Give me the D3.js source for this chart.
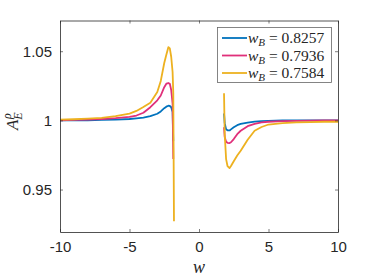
<!DOCTYPE html>
<html>
<head>
<meta charset="utf-8">
<script src="https://cdn.jsdelivr.net/npm/d3@7"></script>
<style>
  body { margin: 0; background: #fff; }
  svg text { fill: #262626; }
</style>
</head>
<body>
<svg id="chart" width="374" height="280"></svg>
<script>
// left branch (w < 0)
let wLeft = [-10, -9, -8, -7, -6, -5, -4.5, -4, -3.5, -3, -2.75, -2.5, -2.35, -2.2, -2.1, -2.0, -1.9, -1.85, -1.8]
let blueLeft = [1.0, 1.0, 1.0001, 1.0003, 1.0006, 1.001, 1.0015, 1.002, 1.003, 1.0048, 1.0065, 1.0088, 1.0099, 1.0106, 1.0104, 1.0095, 1.006, 0.985, null]
let pinkLeft = [1.0, 1.0003, 1.0006, 1.001, 1.0016, 1.0025, 1.0035, 1.0055, 1.0095, 1.0145, 1.018, 1.024, 1.0265, 1.027, 1.0265, 1.022, 1.012, 0.972, null]
let yellowLeft = [1.0005, 1.0008, 1.0012, 1.0018, 1.003, 1.0049, 1.0068, 1.0097, 1.0128, 1.0205, 1.0285, 1.0415, 1.0475, 1.053, 1.052, 1.046, 1.035, 1.02, 0.927]

// right branch (w > 0)
let wRight = [1.8, 1.85, 1.95, 2.05, 2.2, 2.3, 2.5, 2.75, 3, 3.5, 4, 4.5, 5, 6, 7, 8, 9, 10]
let blueRight = [1.005, 0.998, 0.9935, 0.9928, 0.9927, 0.9935, 0.995, 0.9965, 0.9974, 0.9984, 0.9991, 0.9995, 0.9997, 0.9999, 1.0, 1.0, 1.0, 1.0]
let pinkRight = [0.995, 0.988, 0.9845, 0.9838, 0.9836, 0.9842, 0.9865, 0.99, 0.9925, 0.9958, 0.9975, 0.9985, 0.999, 0.9995, 0.9997, 0.9998, 0.9999, 0.9999]
let yellowRight = [1.0196, 0.99, 0.972, 0.967, 0.9655, 0.967, 0.9705, 0.9746, 0.978, 0.986, 0.9925, 0.9952, 0.997, 0.998, 0.9985, 0.9988, 0.999, 0.999]

let labels = ["w_B = 0.8257", "w_B = 0.7936", "w_B = 0.7584"]
let colors = ["#0072bd", "#e0307a", "#edb120"]
let xTicks = [-10, -5, 0, 5, 10]
let yTicks = [0.95, 1, 1.05]

let margin = {top: 20.5, right: 36, bottom: 48, left: 60}
let width = 374, height = 280

let scales = {
  x: d3.scaleLinear().domain([-10, 10]).range([margin.left, width - margin.right]),
  y: d3.scaleLinear().domain([0.9193, 1.0722]).range([height - margin.bottom, margin.top])
}

let svg = d3.select("#chart")

function draw_lines() {
  let series = [
    {left: blueLeft, right: blueRight},
    {left: pinkLeft, right: pinkRight},
    {left: yellowLeft, right: yellowRight}
  ]
  let line = d3.line()
    .defined(d => d[1] != null)
    .x(d => scales.x(d[0]))
    .y(d => scales.y(d[1]))

  let g = svg.append("g")
  series.forEach((s, i) => {
    [[wLeft, s.left], [wRight, s.right]].forEach(([ws, vs]) => {
      g.append("path")
        .attr("d", line(ws.map((w, j) => [w, vs[j]])))
        .attr("fill", "none")
        .attr("stroke", colors[i])
        .attr("stroke-width", 1.8)
        .attr("stroke-linejoin", "round")
    })
  })
}

function draw_axes() {
  let x0 = scales.x.range()[0], x1 = scales.x.range()[1]
  let y0 = scales.y.range()[0], y1 = scales.y.range()[1]
  let font = "'Liberation Sans', Arial, sans-serif"

  let bottom = svg.append("g")
    .attr("transform", `translate(0, ${y0})`)
    .call(d3.axisBottom(scales.x).tickValues(xTicks).tickSizeInner(-3).tickSizeOuter(0).tickPadding(9)
      .tickFormat(d => String(d)))
  let top = svg.append("g")
    .attr("transform", `translate(0, ${y1})`)
    .call(d3.axisTop(scales.x).tickValues(xTicks).tickSizeInner(-3).tickSizeOuter(0).tickFormat(""))
  let left = svg.append("g")
    .attr("transform", `translate(${x0}, 0)`)
    .call(d3.axisLeft(scales.y).tickValues(yTicks).tickSizeInner(-3).tickSizeOuter(0).tickPadding(8)
      .tickFormat(d => String(d)))
  let right = svg.append("g")
    .attr("transform", `translate(${x1}, 0)`)
    .call(d3.axisRight(scales.y).tickValues(yTicks).tickSizeInner(-3).tickSizeOuter(0).tickFormat(""))

  ;[bottom, top, left, right].forEach(a => {
    a.select(".domain").attr("stroke", "#262626").attr("stroke-width", 0.8)
    a.selectAll(".tick line").attr("stroke", "#262626").attr("stroke-width", 0.6)
    a.selectAll(".tick text").attr("font-family", font).attr("font-size", 15).attr("fill", "#262626")
  })

  // x label
  svg.append("text")
    .attr("x", scales.x(0))
    .attr("y", 273)
    .attr("text-anchor", "middle")
    .attr("font-family", "'Liberation Serif', 'DejaVu Serif', serif")
    .attr("font-style", "italic")
    .attr("font-size", 18)
    .text("w")

  // y label A_E^rho
  let yl = svg.append("text")
    .attr("transform", "translate(18, 130) rotate(-90)")
    .attr("font-family", "'Liberation Serif', 'DejaVu Serif', serif")
    .attr("font-style", "italic")
    .attr("font-size", 17)
  yl.append("tspan").text("A")
  yl.append("tspan").attr("font-size", 12).attr("dy", -7).attr("dx", 0.5).text("ρ")
  yl.append("tspan").attr("font-size", 12).attr("dy", 11).attr("dx", -6.5).text("E")
}

function draw_legend() {
  let g = svg.append("g")
  g.append("rect")
    .attr("x", 217.5).attr("y", 27.5)
    .attr("width", 114).attr("height", 55)
    .attr("fill", "#fff")
    .attr("stroke", "#666")
    .attr("stroke-width", 0.8)

  labels.forEach((lab, i) => {
    let y = 38 + i * 17.5
    g.append("line")
      .attr("x1", 222).attr("x2", 247)
      .attr("y1", y).attr("y2", y)
      .attr("stroke", colors[i])
      .attr("stroke-width", 1.8)
    let parts = lab.split(" = ")
    let t = g.append("text")
      .attr("x", 248).attr("y", y + 5)
      .attr("font-family", "'Liberation Serif', 'DejaVu Serif', serif")
      .attr("font-size", 15.5)
    t.append("tspan").attr("font-style", "italic").text("w")
    t.append("tspan").attr("font-style", "italic").attr("font-size", 11).attr("dy", 3).text("B")
    t.append("tspan").attr("dy", -3).text(" = " + parts[1])
  })
}

draw_lines()
draw_axes()
draw_legend()
</script>
</body>
</html>
